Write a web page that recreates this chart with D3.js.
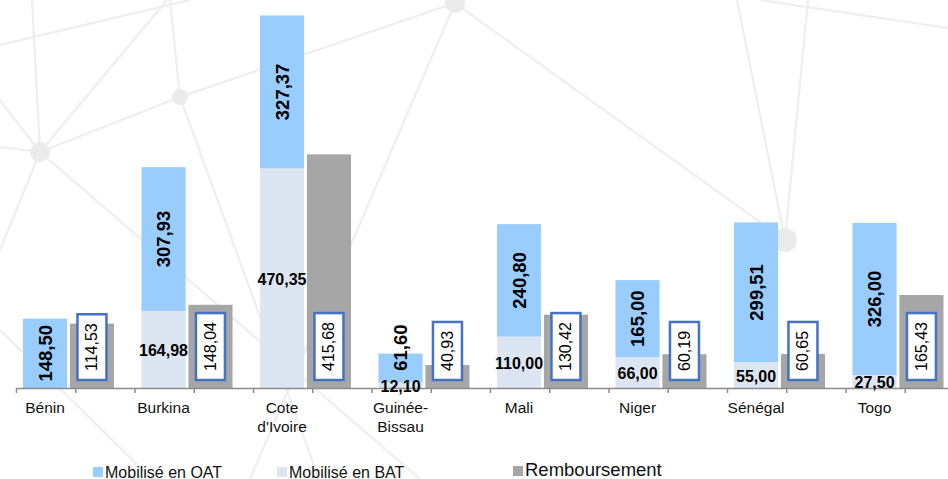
<html>
<head>
<meta charset="utf-8">
<script src="https://d3js.org/d3.v7.min.js"></script>
<style>
  body { margin: 0; background: #fff; }
  svg { font-family: "Liberation Sans", Arial, sans-serif; display: block; }
</style>
</head>
<body>
<svg width="948" height="479"></svg>
<script>
// data
var categories = ["Bénin", "Burkina", "Cote d'Ivoire", "Guinée-Bissau", "Mali", "Niger", "Sénégal", "Togo"];
var catLines = [["Bénin"], ["Burkina"], ["Cote", "d'Ivoire"], ["Guinée-", "Bissau"], ["Mali"], ["Niger"], ["Sénégal"], ["Togo"]];
var oat = [148.50, 307.93, 327.37, 61.60, 240.80, 165.00, 299.51, 326.00];
var bat = [null, 164.98, 470.35, 12.10, 110.00, 66.00, 55.00, 27.50];
var remb = [114.53, 148.04, 415.68, 40.93, 130.42, 60.19, 60.65, 165.43];
var legendNames = ["Mobilisé en OAT", "Mobilisé en BAT", "Remboursement"];

var colOAT = "#99ccff", colBAT = "#dce6f2", colRemb = "#a6a6a6";
var fr = d3.formatLocale({decimal: ",", thousands: " ", grouping: [3], currency: ["", ""]});
var fmt = fr.format(".2f");

var svg = d3.select("svg");
var base = 388;

// background network decoration
var nodes = [[40, 152, 10], [180, 97, 8], [455, 3, 10], [785, 240, 12]];
var edges = [
  [[40,152],[32,0]], [[40,152],[167,0]], [[40,152],[180,97]], [[40,152],[0,147]],
  [[40,152],[0,100]], [[40,152],[0,250]], [[40,152],[420,479]],
  [[180,97],[455,3]], [[180,97],[170,0]], [[180,97],[319,479]],
  [[0,45],[190,0]], [[455,3],[250,479]], [[455,3],[785,240]],
  [[785,240],[737,0]], [[785,240],[808,0]], [[760,0],[948,28]], [[0,330],[152,479]]
];
var bg = svg.append("g");
bg.selectAll("line").data(edges).enter().append("line")
  .attr("x1", d => d[0][0]).attr("y1", d => d[0][1])
  .attr("x2", d => d[1][0]).attr("y2", d => d[1][1])
  .attr("stroke", "#eeeeee").attr("stroke-width", 2.2);
bg.selectAll("circle").data(nodes).enter().append("circle")
  .attr("cx", d => d[0]).attr("cy", d => d[1]).attr("r", d => d[2])
  .attr("fill", "#ebebeb");

// scales
var x = d3.scaleBand().domain(categories).range([16, 964]);
var xs = d3.scaleBand().domain(["pile", "remb"]).range([7, 98]).paddingInner(0.06);
var yL = d3.scaleLinear().domain([0, 800]).range([base, 14.4]);
var yR = d3.scaleLinear().domain([0, 500]).range([base, 107]);

var rows = categories.map((c, i) => ({c: c, i: i, oat: oat[i], bat: bat[i] || 0, batRaw: bat[i], remb: remb[i]}));

var g = svg.append("g");

// BAT segment (bottom)
g.selectAll(".bat").data(rows).enter().append("rect")
  .attr("x", d => x(d.c) + xs("pile")).attr("width", xs.bandwidth())
  .attr("y", d => yL(d.bat)).attr("height", d => base - yL(d.bat))
  .attr("fill", colBAT);
// OAT segment (top)
g.selectAll(".oat").data(rows).enter().append("rect")
  .attr("x", d => x(d.c) + xs("pile")).attr("width", xs.bandwidth())
  .attr("y", d => yL(d.bat + d.oat)).attr("height", d => yL(d.bat) - yL(d.bat + d.oat))
  .attr("fill", colOAT);
// Remboursement
g.selectAll(".remb").data(rows).enter().append("rect")
  .attr("x", d => x(d.c) + xs("remb")).attr("width", xs.bandwidth())
  .attr("y", d => yR(d.remb)).attr("height", d => base - yR(d.remb))
  .attr("fill", colRemb);

// axis
var half = d3.scaleLinear().domain([0, 16]).range([16, 964]);
var ax = svg.append("g").attr("transform", "translate(0," + base + ")")
  .call(d3.axisBottom(half).tickValues(d3.range(17)).tickFormat("").tickSize(5).tickSizeOuter(0));
ax.select(".domain").attr("stroke", "#8c8c8c").attr("stroke-width", 1.5);
ax.selectAll(".tick line").attr("stroke", "#8c8c8c").attr("stroke-width", 1.5);

// category labels
rows.forEach(function(d) {
  var cx = x(d.c) + xs("pile") + xs.bandwidth() / 2;
  var t = svg.append("text").attr("x", cx).attr("y", 413)
    .attr("text-anchor", "middle").attr("font-size", 15.5).attr("fill", "#111");
  catLines[d.i].forEach(function(s, k) {
    t.append("tspan").attr("x", cx).attr("dy", k === 0 ? 0 : 19).text(s);
  });
});

// OAT labels (rotated, bold)
rows.forEach(function(d) {
  var cx = x(d.c) + xs("pile") + xs.bandwidth() / 2;
  var top = yL(d.bat + d.oat), bot = yL(d.bat);
  var t = svg.append("text").attr("font-size", 18.5).attr("font-weight", "bold")
    .attr("text-anchor", "middle").attr("dominant-baseline", "central").attr("fill", "#000")
    .text(fmt(d.oat));
  var len = t.node().getComputedTextLength();
  var cy = (bot - top) < len ? top - 6 : (top + bot) / 2;
  t.attr("transform", "translate(" + cx + "," + cy + ") rotate(-90)");
});

// BAT labels (horizontal, bold)
rows.filter(d => d.batRaw != null).forEach(function(d) {
  var cx = x(d.c) + xs("pile") + xs.bandwidth() / 2;
  var cy = (yL(d.bat) + base) / 2;
  svg.append("text").attr("x", cx).attr("y", cy + 1)
    .attr("font-size", 16).attr("font-weight", "bold")
    .attr("text-anchor", "middle").attr("dominant-baseline", "central").attr("fill", "#000")
    .text(fmt(d.bat));
});

// Remboursement labels in framed boxes
rows.forEach(function(d) {
  var cx = x(d.c) + xs("remb") + xs.bandwidth() / 2;
  var box = svg.append("rect");
  var t = svg.append("text").attr("font-size", 16)
    .attr("text-anchor", "middle").attr("dominant-baseline", "central").attr("fill", "#000")
    .text(fmt(d.remb));
  var len = t.node().getComputedTextLength();
  var h = len + 18, w = 29, bottom = base - 8;
  box.attr("x", cx - w / 2).attr("y", bottom - h).attr("width", w).attr("height", h)
    .attr("fill", "#fff").attr("stroke", "#4472c4").attr("stroke-width", 2.5);
  t.attr("transform", "translate(" + cx + "," + (bottom - h / 2) + ") rotate(-90)");
});

// legend
var legX = [93, 277, 513];
var legSize = [16, 16, 18.5];
var legCol = [colOAT, colBAT, colRemb];
legendNames.forEach(function(n, i) {
  svg.append("rect").attr("x", legX[i]).attr("y", 467 - (i === 2 ? 1 : 0))
    .attr("width", 10).attr("height", 10).attr("fill", legCol[i]);
  svg.append("text").attr("x", legX[i] + 12).attr("y", i === 2 ? 476 : 477.5)
    .attr("font-size", legSize[i]).attr("fill", "#111").text(n);
});
</script>
</body>
</html>
